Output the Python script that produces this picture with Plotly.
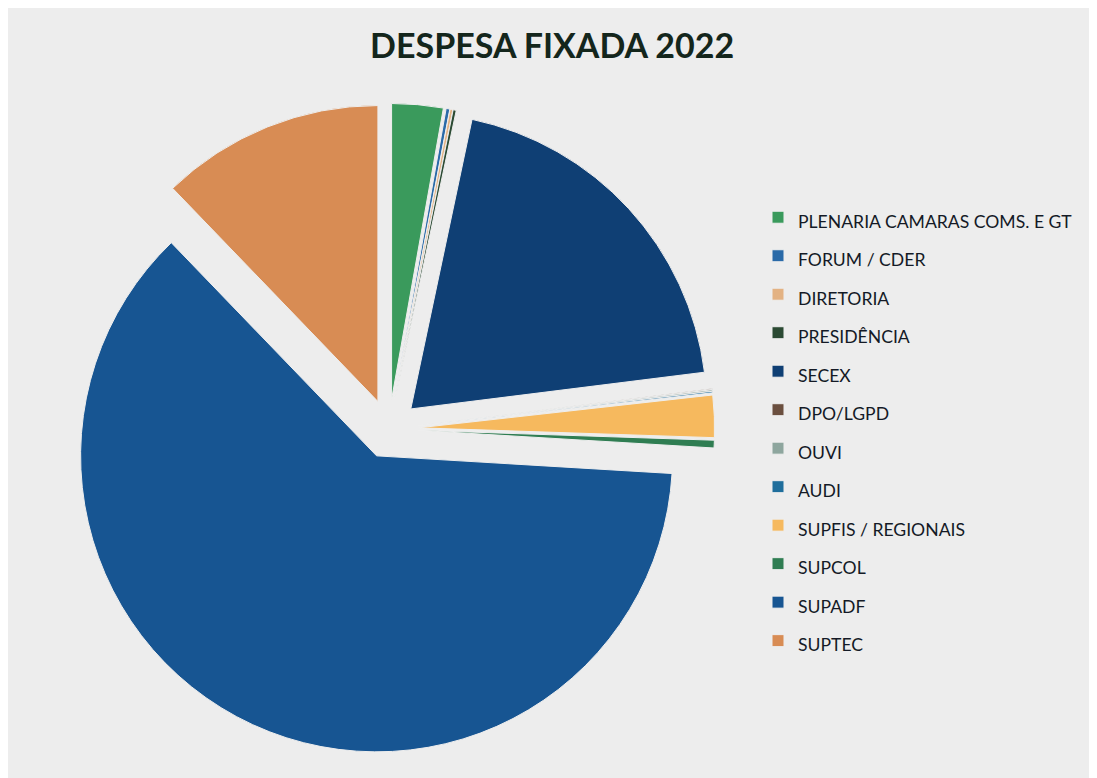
import plotly.graph_objects as go

labels = ["PLENARIA CAMARAS COMS. E GT", "FORUM / CDER", "DIRETORIA", "PRESIDÊNCIA",
          "SECEX", "DPO/LGPD", "OUVI", "AUDI", "SUPFIS / REGIONAIS", "SUPCOL",
          "SUPADF", "SUPTEC"]
values = [2.8, 0.2, 0.15, 0.17, 19.7, 0.05, 0.08, 0.08, 2.3, 0.42, 61.85, 12.2]
colors = ["#3a9a5c", "#2a6aa8", "#e3b283", "#2b4a33", "#0f3f74", "#6b4f3f",
          "#8ea69e", "#1f6e9c", "#f6b95e", "#2f7d52", "#175592", "#d88c54"]

legend_labels = ["<span style='font-size:17.6px'>%s</span>" % l for l in labels]

fig = go.Figure(go.Pie(
    labels=legend_labels,
    values=values,
    sort=False,
    direction="clockwise",
    rotation=0,
    pull=[0.1] * len(values),
    marker=dict(colors=colors, line=dict(color="#eeeeee", width=1)),
    textinfo="none",
    hoverinfo="label+percent",
    domain=dict(x=[0.0505, 0.6441], y=[0.0404, 0.8774]),
))

fig.update_layout(
    width=1097, height=778,
    margin=dict(l=0, r=0, t=0, b=0),
    paper_bgcolor="#ededed",
    plot_bgcolor="#ededed",
    font=dict(family="Lato, 'Open Sans', sans-serif", color="#141a26"),
    title=dict(text="<b>DESPESA FIXADA 2022</b>", x=0.496, xanchor="center",
               y=1 - 38 / 778, yanchor="middle",
               font=dict(family="Lato", size=34, color="#14261c")),
    legend=dict(x=750 / 1097, xanchor="left", y=1 - 185 / 778, yanchor="top",
                font=dict(family="Lato", size=27.3, color="#141a26"),
                bgcolor="rgba(0,0,0,0)", traceorder="normal"),
    showlegend=True,
)

fig.write_html("out.html")
